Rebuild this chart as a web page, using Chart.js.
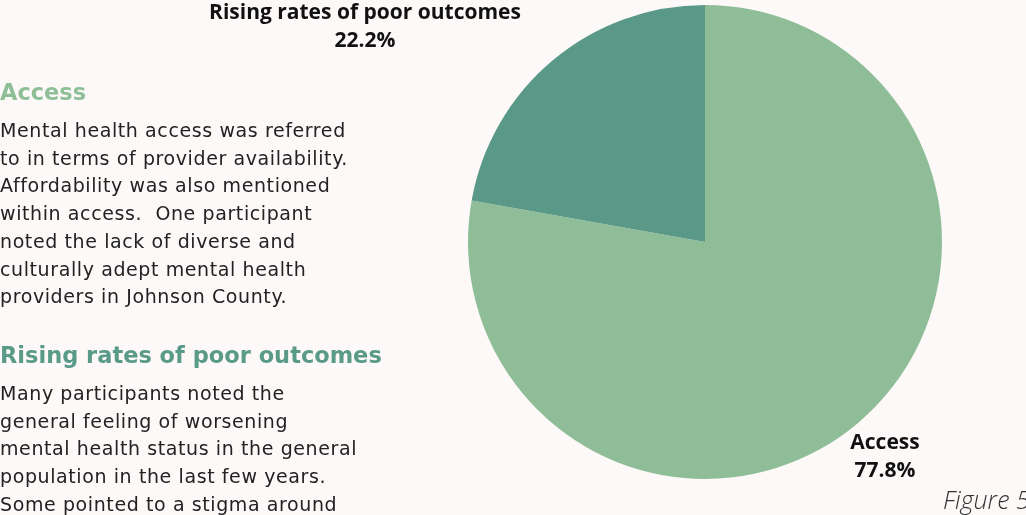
<!DOCTYPE html>
<html>
<head>
<meta charset="utf-8">
<script src="https://cdn.jsdelivr.net/npm/chart.js@4"></script>
<style>
  html, body { margin: 0; padding: 0; background: #fcf9f8; }
  #page { position: relative; width: 1026px; height: 515px; overflow: hidden; }
  #chartBox { position: absolute; left: 0; top: 0; width: 1026px; height: 515px; }
  .side { position: absolute; left: 0; font-family: "DejaVu Sans", sans-serif; color: #222; }
  .side h3 { margin: 0; font-size: 22.5px; line-height: 26px; font-weight: 700; letter-spacing: 0; }
  .side p { margin: 12px 0 0 0; font-size: 19px; line-height: 27.7px; letter-spacing: 0.6px; white-space: nowrap; }
  #figure { position: absolute; left: 943px; top: 482px; font-family: "Open Sans", sans-serif;
            font-style: italic; font-weight: 300; font-size: 25px; color: #333; white-space: nowrap; }
</style>
</head>
<body>
<div id="page">
  <div id="chartBox"><canvas id="themeChart"></canvas></div>

  <div class="side" style="top:79px">
    <h3 style="color:#8fbf97">Access</h3>
    <p>Mental health access was referred<br>to in terms of provider availability.<br>Affordability was also mentioned<br>within access.&nbsp; One participant<br>noted the lack of diverse and<br>culturally adept mental health<br>providers in Johnson County.</p>
  </div>

  <div class="side" style="top:342px">
    <h3 style="color:#5a9a88">Rising rates of poor outcomes</h3>
    <p>Many participants noted the<br>general feeling of worsening<br>mental health status in the general<br>population in the last few years.<br>Some pointed to a stigma around</p>
  </div>

  <div id="figure">Figure 5</div>
</div>

<script>
// Share of participant comments by theme
const themes = ["Access", "Rising rates of poor outcomes"];
const shares = [77.8, 22.2];
const sliceColors = ["#8fbd97", "#5a9887"];

// Where each slice's caption sits, relative to the pie centre
const captionOffsets = [
  { dx: 180, dy: 201 },
  { dx: -340, dy: -229 }
];

const outsideLabels = {
  id: "outsideLabels",
  afterDatasetsDraw(chart) {
    const ctx = chart.ctx;
    const arcs = chart.getDatasetMeta(0).data;
    ctx.save();
    ctx.fillStyle = "#111";
    ctx.font = "bold 21px 'Open Sans', sans-serif";
    ctx.textAlign = "center";
    ctx.textBaseline = "middle";
    arcs.forEach((arc, i) => {
      const x = arc.x + captionOffsets[i].dx;
      const y = arc.y + captionOffsets[i].dy;
      ctx.fillText(themes[i], x, y);
      ctx.fillText(shares[i].toFixed(1) + "%", x, y + 28);
    });
    ctx.restore();
  }
};

const ctx = document.getElementById("themeChart").getContext("2d");
new Chart(ctx, {
  type: "pie",
  data: {
    labels: themes,
    datasets: [
      {
        data: shares,
        backgroundColor: sliceColors,
        borderWidth: 0
      }
    ]
  },
  options: {
    responsive: true,
    maintainAspectRatio: false,
    animation: false,
    layout: { padding: { left: 468, right: 84, top: 5, bottom: 36 } },
    plugins: {
      legend: { display: false },
      tooltip: { enabled: false }
    }
  },
  plugins: [outsideLabels]
});
</script>
</body>
</html>
